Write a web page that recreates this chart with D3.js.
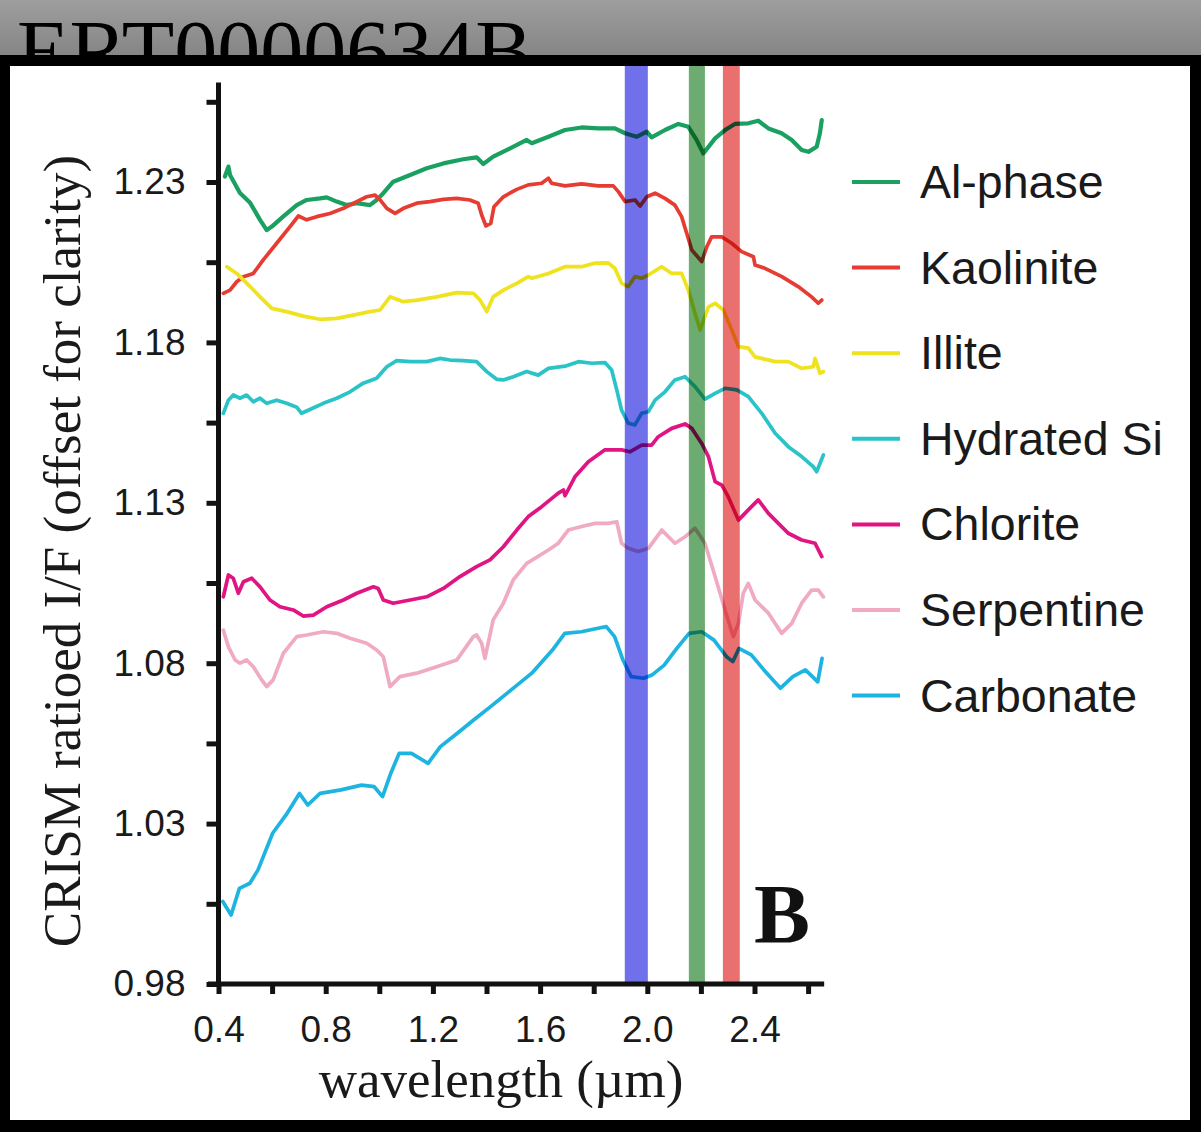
<!DOCTYPE html>
<html>
<head>
<meta charset="utf-8">
<script src="https://cdn.jsdelivr.net/npm/d3@7"></script>
<style>
  html, body { margin: 0; padding: 0; background: #000; }
  svg { display: block; }
</style>
</head>
<body>
<svg id="chart" width="1201" height="1132"></svg>
<script>
// spectra: [wavelength (um), ratioed I/F]
var alPhase = [
  [0.424,1.2317],[0.437,1.2348],[0.443,1.2322],[0.480,1.2266],[0.518,1.2235],[0.555,1.2182],[0.580,1.2150],
  [0.599,1.2161],[0.641,1.2192],[0.692,1.2228],[0.729,1.2244],[0.779,1.2249],[0.804,1.2252],[0.841,1.2239],
  [0.878,1.2228],[0.916,1.2234],[0.965,1.2228],[0.990,1.2244],[1.015,1.2265],[1.052,1.2301],[1.115,1.2322],
  [1.177,1.2343],[1.239,1.2358],[1.313,1.2371],[1.363,1.2377],[1.388,1.2356],[1.425,1.2379],[1.488,1.2405],
  [1.550,1.2431],[1.569,1.2421],[1.631,1.2441],[1.693,1.2462],[1.755,1.2470],[1.817,1.2467],[1.879,1.2467],
  [1.917,1.2452],[1.960,1.2441],[1.998,1.2457],[2.016,1.2439],[2.066,1.2462],[2.116,1.2481],[2.153,1.2472],
  [2.184,1.2431],[2.209,1.2389],[2.253,1.2436],[2.290,1.2462],[2.327,1.2481],[2.377,1.2483],[2.414,1.2491],
  [2.452,1.2467],[2.501,1.2452],[2.539,1.2431],[2.576,1.2400],[2.601,1.2394],[2.632,1.2410],[2.644,1.2452],
  [2.651,1.2493]
];
var kaolinite = [
  [0.418,1.1953],[0.443,1.1963],[0.468,1.1989],[0.493,1.2005],[0.530,1.2015],[0.567,1.2057],[0.617,1.2109],
  [0.667,1.2161],[0.698,1.2194],[0.729,1.2182],[0.766,1.2192],[0.816,1.2202],[0.866,1.2218],[0.916,1.2239],
  [0.953,1.2254],[0.984,1.2259],[1.003,1.2244],[1.028,1.2218],[1.059,1.2202],[1.090,1.2218],[1.140,1.2234],
  [1.189,1.2239],[1.239,1.2246],[1.289,1.2249],[1.338,1.2244],[1.369,1.2234],[1.382,1.2197],[1.398,1.2163],
  [1.416,1.2171],[1.428,1.2223],[1.463,1.2254],[1.513,1.2277],[1.556,1.2291],[1.606,1.2296],[1.631,1.2312],
  [1.643,1.2296],[1.693,1.2288],[1.755,1.2294],[1.817,1.2288],[1.873,1.2288],[1.892,1.2270],[1.917,1.2239],
  [1.954,1.2244],[1.973,1.2225],[1.998,1.2254],[2.029,1.2265],[2.066,1.2249],[2.103,1.2228],[2.128,1.2192],
  [2.147,1.2140],[2.166,1.2088],[2.203,1.2052],[2.222,1.2098],[2.240,1.2129],[2.278,1.2129],[2.315,1.2109],
  [2.352,1.2083],[2.396,1.2067],[2.402,1.2041],[2.439,1.2031],[2.502,1.2005],[2.563,1.1974],[2.613,1.1942],
  [2.638,1.1922],[2.651,1.1932]
];
var illite = [
  [0.431,1.2036],[0.468,1.2015],[0.518,1.1974],[0.555,1.1942],[0.599,1.1906],[0.654,1.1896],[0.716,1.1882],
  [0.779,1.1872],[0.841,1.1875],[0.903,1.1885],[0.965,1.1896],[1.003,1.1901],[1.040,1.1942],[1.090,1.1927],
  [1.140,1.1932],[1.214,1.1942],[1.289,1.1955],[1.351,1.1953],[1.376,1.1932],[1.401,1.1896],[1.425,1.1942],
  [1.463,1.1963],[1.513,1.1984],[1.556,1.2005],[1.569,1.2000],[1.631,1.2015],[1.693,1.2036],[1.755,1.2036],
  [1.805,1.2047],[1.854,1.2048],[1.879,1.2031],[1.904,1.1984],[1.929,1.1974],[1.954,1.2005],[1.979,1.2000],
  [2.004,1.2010],[2.054,1.2036],[2.091,1.2015],[2.128,1.2015],[2.153,1.1963],[2.178,1.1891],[2.197,1.1839],
  [2.228,1.1911],[2.253,1.1922],[2.284,1.1901],[2.315,1.1839],[2.340,1.1787],[2.377,1.1782],[2.402,1.1755],
  [2.477,1.1740],[2.526,1.1740],[2.576,1.1719],[2.619,1.1724],[2.626,1.1750],[2.644,1.1704],[2.657,1.1709]
];
var hydratedSi = [
  [0.418,1.1579],[0.437,1.1620],[0.455,1.1636],[0.480,1.1626],[0.505,1.1636],[0.530,1.1615],[0.555,1.1626],
  [0.580,1.1610],[0.617,1.1620],[0.654,1.1610],[0.692,1.1598],[0.710,1.1579],[0.741,1.1591],[0.791,1.1610],
  [0.841,1.1626],[0.891,1.1646],[0.940,1.1673],[0.990,1.1688],[1.028,1.1724],[1.065,1.1743],[1.115,1.1740],
  [1.177,1.1740],[1.226,1.1750],[1.264,1.1745],[1.313,1.1743],[1.363,1.1740],[1.401,1.1709],[1.438,1.1685],
  [1.463,1.1683],[1.500,1.1693],[1.550,1.1709],[1.593,1.1698],[1.631,1.1719],[1.693,1.1726],[1.743,1.1740],
  [1.793,1.1735],[1.842,1.1737],[1.867,1.1714],[1.886,1.1652],[1.904,1.1589],[1.929,1.1548],[1.954,1.1543],
  [1.979,1.1579],[2.004,1.1584],[2.029,1.1620],[2.066,1.1646],[2.103,1.1683],[2.141,1.1693],[2.178,1.1662],
  [2.215,1.1623],[2.253,1.1641],[2.290,1.1657],[2.334,1.1652],[2.377,1.1631],[2.427,1.1579],[2.477,1.1517],
  [2.526,1.1475],[2.576,1.1444],[2.619,1.1413],[2.632,1.1397],[2.657,1.1449]
];
var chlorite = [
  [0.418,1.1007],[0.437,1.1075],[0.455,1.1065],[0.474,1.1018],[0.493,1.1054],[0.524,1.1065],[0.555,1.1038],
  [0.592,1.0997],[0.629,1.0976],[0.679,1.0966],[0.716,1.0947],[0.754,1.0950],[0.804,1.0976],[0.866,1.0997],
  [0.916,1.1018],[0.978,1.1038],[0.996,1.1033],[1.015,1.0997],[1.052,1.0987],[1.115,1.0997],[1.177,1.1007],
  [1.239,1.1033],[1.301,1.1070],[1.363,1.1101],[1.413,1.1122],[1.463,1.1163],[1.513,1.1215],[1.556,1.1257],
  [1.606,1.1288],[1.668,1.1330],[1.687,1.1340],[1.693,1.1322],[1.730,1.1381],[1.780,1.1428],[1.842,1.1465],
  [1.904,1.1465],[1.935,1.1459],[1.979,1.1480],[2.016,1.1480],[2.041,1.1506],[2.091,1.1532],[2.141,1.1546],
  [2.166,1.1532],[2.203,1.1485],[2.228,1.1444],[2.253,1.1366],[2.278,1.1355],[2.302,1.1319],[2.340,1.1246],
  [2.377,1.1278],[2.414,1.1309],[2.452,1.1267],[2.489,1.1236],[2.526,1.1205],[2.576,1.1184],[2.626,1.1174],
  [2.651,1.1132]
];
var serpentine = [
  [0.418,1.0903],[0.437,1.0851],[0.462,1.0810],[0.480,1.0800],[0.505,1.0810],[0.530,1.0789],[0.561,1.0748],
  [0.580,1.0727],[0.604,1.0748],[0.642,1.0831],[0.692,1.0883],[0.729,1.0888],[0.791,1.0898],[0.841,1.0893],
  [0.891,1.0878],[0.953,1.0862],[0.990,1.0841],[1.015,1.0820],[1.040,1.0727],[1.077,1.0758],[1.140,1.0769],
  [1.214,1.0789],[1.289,1.0810],[1.351,1.0883],[1.363,1.0888],[1.382,1.0862],[1.394,1.0815],[1.425,1.0935],
  [1.463,1.0987],[1.500,1.1060],[1.550,1.1111],[1.631,1.1153],[1.668,1.1174],[1.705,1.1215],[1.755,1.1226],
  [1.805,1.1236],[1.854,1.1236],[1.886,1.1241],[1.904,1.1174],[1.929,1.1158],[1.966,1.1148],[2.004,1.1158],
  [2.054,1.1215],[2.103,1.1174],[2.141,1.1194],[2.178,1.1221],[2.215,1.1174],[2.253,1.1070],[2.290,1.0966],
  [2.321,1.0883],[2.340,1.0924],[2.358,1.1018],[2.377,1.1049],[2.402,1.0997],[2.452,1.0956],[2.501,1.0893],
  [2.539,1.0924],[2.576,1.0987],[2.613,1.1028],[2.638,1.1028],[2.657,1.1007]
];
var carbonate = [
  [0.416,1.0057],[0.447,1.0015],[0.478,1.0098],[0.517,1.0114],[0.547,1.0155],[0.602,1.0270],[0.656,1.0332],
  [0.702,1.0394],[0.733,1.0358],[0.779,1.0394],[0.857,1.0405],[0.934,1.0420],[0.981,1.0415],[1.012,1.0384],
  [1.043,1.0457],[1.074,1.0519],[1.120,1.0519],[1.182,1.0488],[1.228,1.0540],[1.290,1.0581],[1.352,1.0623],
  [1.414,1.0664],[1.491,1.0716],[1.569,1.0769],[1.646,1.0841],[1.692,1.0893],[1.754,1.0898],[1.816,1.0909],
  [1.847,1.0914],[1.878,1.0883],[1.909,1.0810],[1.940,1.0758],[1.986,1.0753],[2.017,1.0763],[2.063,1.0794],
  [2.110,1.0846],[2.156,1.0893],[2.203,1.0898],[2.249,1.0872],[2.296,1.0820],[2.319,1.0805],[2.342,1.0846],
  [2.388,1.0826],[2.435,1.0779],[2.497,1.0722],[2.543,1.0758],[2.590,1.0779],[2.636,1.0742],[2.652,1.0815]
];

var seriesNames = ['Al-phase', 'Kaolinite', 'Illite', 'Hydrated Si', 'Chlorite', 'Serpentine', 'Carbonate'];
var seriesData = [alPhase, kaolinite, illite, hydratedSi, chlorite, serpentine, carbonate];
var seriesColors = ['#1aa060', '#e63c32', '#efe21e', '#2ac3c8', '#e01482', '#f0aac3', '#1eb4e1'];

// absorption band markers (um)
var bandRanges = [[1.916, 2.002], [2.155, 2.215], [2.282, 2.345]];
var bandColors = ['#7070ea', '#6cac70', '#ea7070'];

var xTicks = [0.4, 0.6, 0.8, 1.0, 1.2, 1.4, 1.6, 1.8, 2.0, 2.2, 2.4, 2.6];
var xLabels = [0.4, 0.8, 1.2, 1.6, 2.0, 2.4];
var yTicks = [0.98, 1.005, 1.03, 1.055, 1.08, 1.105, 1.13, 1.155, 1.18, 1.205, 1.23, 1.255];
var yLabels = [0.98, 1.03, 1.08, 1.13, 1.18, 1.23];

var svg = d3.select('#chart');

// header strip with clipped title
var defs = svg.append('defs');
var grad = defs.append('linearGradient')
  .attr('id', 'hdr').attr('x1', 0).attr('y1', 0).attr('x2', 0).attr('y2', 1);
grad.append('stop').attr('offset', '0%').attr('stop-color', '#9e9e9e');
grad.append('stop').attr('offset', '100%').attr('stop-color', '#838383');
svg.append('rect').attr('x', 0).attr('y', 0).attr('width', 1201).attr('height', 60).attr('fill', 'url(#hdr)');
svg.append('text')
  .attr('x', 17).attr('y', 80)
  .style('font-family', '"Liberation Serif", "DejaVu Serif", serif')
  .style('font-size', '86px')
  .attr('fill', '#000')
  .text('ERT0000634B');

// black frame + white panel
svg.append('rect').attr('x', 0).attr('y', 55).attr('width', 1201).attr('height', 1077).attr('fill', '#000');
svg.append('rect').attr('x', 10).attr('y', 66).attr('width', 1180).attr('height', 1054).attr('fill', '#fff');

var x = d3.scaleLinear().domain([0.4, 2.4]).range([218.5, 754.5]);
var y = d3.scaleLinear().domain([0.98, 1.23]).range([984, 182]);

var line = d3.line()
  .x(function(d) { return x(d[0]); })
  .y(function(d) { return y(d[1]); });

var plot = svg.append('g').style('isolation', 'isolate');

seriesData.forEach(function(data, i) {
  plot.append('path')
    .datum(data)
    .attr('d', line)
    .attr('fill', 'none')
    .attr('stroke', seriesColors[i])
    .attr('stroke-width', i === 0 ? 4.2 : 3.7)
    .attr('stroke-linejoin', 'round')
    .attr('stroke-linecap', 'round');
});

// bands sit over the spectra, multiplied
bandRanges.forEach(function(b, i) {
  plot.append('rect')
    .attr('x', x(b[0]))
    .attr('y', 66)
    .attr('width', x(b[1]) - x(b[0]))
    .attr('height', y(0.98) - 66)
    .attr('fill', bandColors[i])
    .style('mix-blend-mode', 'multiply');
});

// axes
var fmt = d3.format('.2f');
var yAxis = d3.axisLeft(y)
  .tickValues(yTicks)
  .tickSize(12)
  .tickPadding(21)
  .tickFormat(function(d) { return yLabels.indexOf(d) >= 0 ? fmt(d) : ''; });
var xAxis = d3.axisBottom(x)
  .tickValues(xTicks)
  .tickSize(10)
  .tickPadding(22)
  .tickFormat(function(d) { return xLabels.indexOf(d) >= 0 ? d3.format('.1f')(d) : ''; });

var gy = svg.append('g').attr('transform', 'translate(218.5,0)').call(yAxis);
var gx = svg.append('g').attr('transform', 'translate(0,984)').call(xAxis);

[gy, gx].forEach(function(g) {
  g.select('.domain').remove();
  g.selectAll('.tick line').attr('stroke', '#111').attr('stroke-width', 5);
  g.selectAll('.tick text')
    .attr('fill', '#1a1a1a')
    .style('font-family', '"Liberation Sans", Arial, Helvetica, sans-serif')
    .style('font-size', '37px');
});

svg.append('line')
  .attr('x1', 218.5).attr('x2', 218.5)
  .attr('y1', y(0.98) + 2.5).attr('y2', y(1.261))
  .attr('stroke', '#111').attr('stroke-width', 5);
svg.append('line')
  .attr('x1', x(0.361)).attr('x2', x(2.66))
  .attr('y1', 984).attr('y2', 984)
  .attr('stroke', '#111').attr('stroke-width', 5);

// axis titles
svg.append('text')
  .attr('transform', 'translate(80,551) rotate(-90)')
  .attr('text-anchor', 'middle')
  .attr('fill', '#1a1a1a')
  .style('font-family', '"Liberation Serif", "DejaVu Serif", serif')
  .style('font-size', '53px')
  .text('CRISM ratioed I/F (offset for clarity)');
svg.append('text')
  .attr('x', 501).attr('y', 1097)
  .attr('text-anchor', 'middle')
  .attr('fill', '#1a1a1a')
  .style('font-family', '"Liberation Serif", "DejaVu Serif", serif')
  .style('font-size', '53px')
  .text('wavelength (\u00b5m)');

// panel letter
svg.append('text')
  .attr('x', 754).attr('y', 943)
  .attr('fill', '#111')
  .style('font-family', '"Liberation Serif", "DejaVu Serif", serif')
  .style('font-size', '84px')
  .style('font-weight', 'bold')
  .text('B');

// legend
var legend = svg.append('g');
seriesNames.forEach(function(name, i) {
  var ly = 182 + i * 85.6;
  legend.append('line')
    .attr('x1', 852).attr('x2', 900)
    .attr('y1', ly).attr('y2', ly)
    .attr('stroke', seriesColors[i])
    .attr('stroke-width', 4);
  legend.append('text')
    .attr('x', 920).attr('y', ly + 16)
    .attr('fill', '#1a1a1a')
    .style('font-family', '"Liberation Sans", Arial, Helvetica, sans-serif')
    .style('font-size', '46.5px')
    .text(name);
});
</script>
</body>
</html>
